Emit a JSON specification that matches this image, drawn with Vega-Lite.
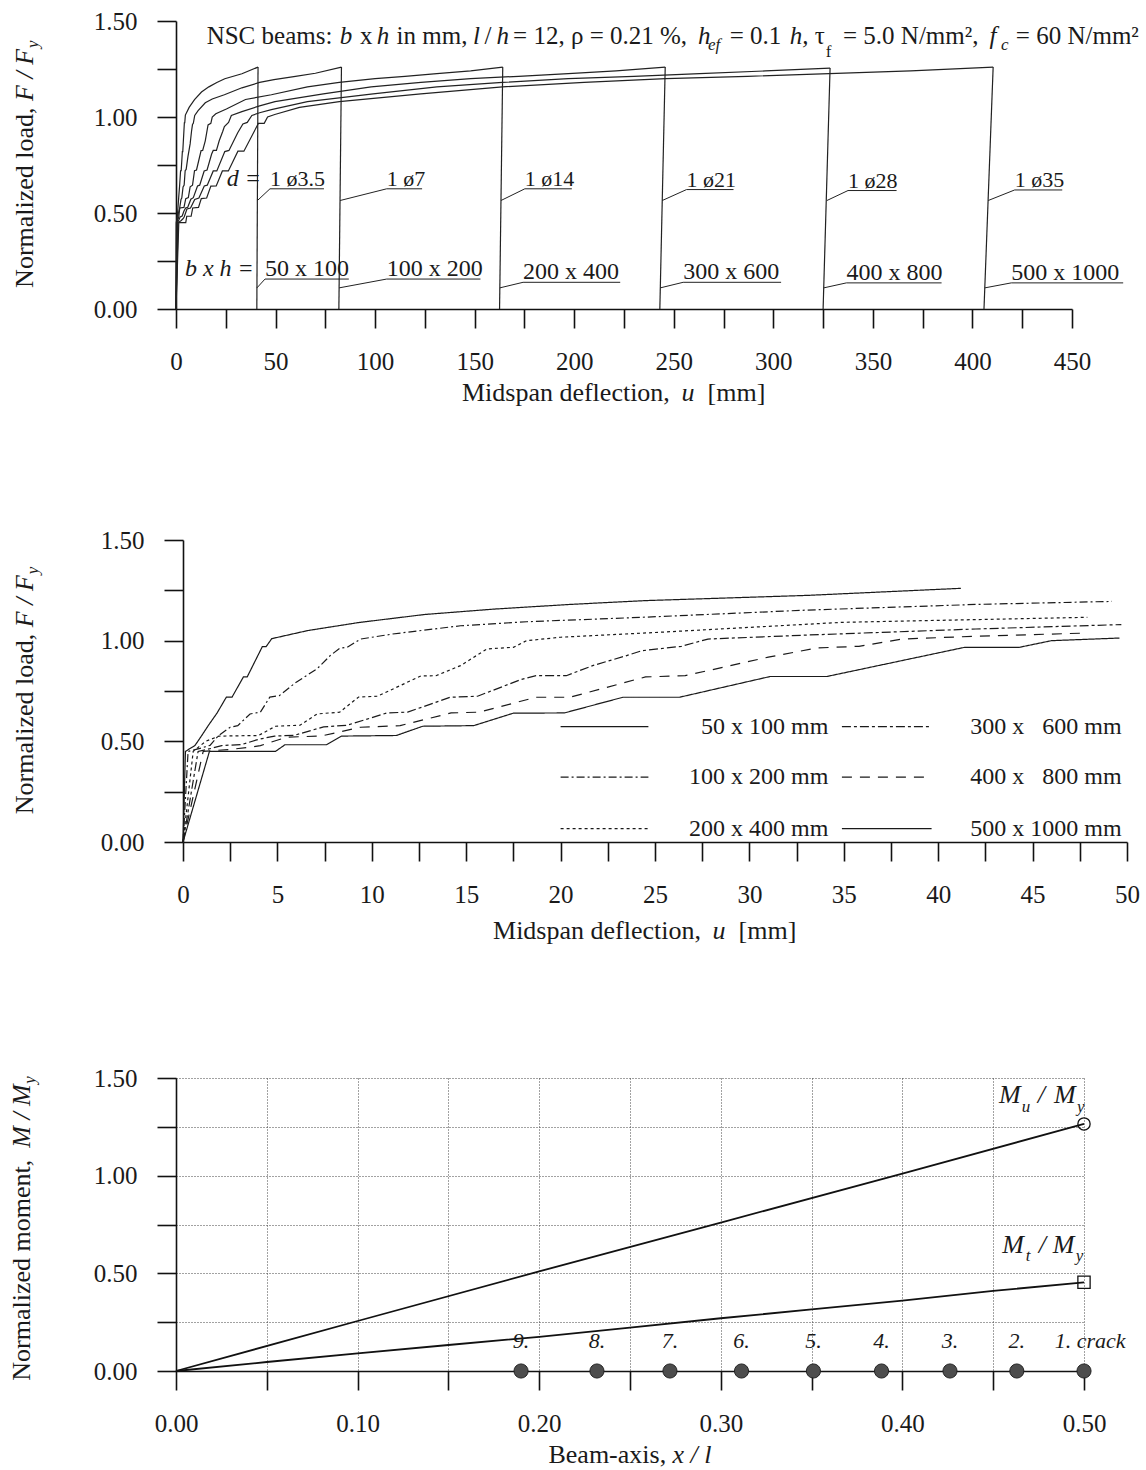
{
  "$schema": "https://vega.github.io/schema/vega-lite/v6.json",
  "background": "white",
  "padding": {"left": 8, "top": 9, "right": 0, "bottom": 0},
  "config": {
    "font": "Liberation Serif",
    "view": {"stroke": null},
    "axis": {
      "domainColor": "#111", "domainWidth": 1.6, "tickColor": "#111", "tickWidth": 1.6, "tickSize": 19,
      "labelFont": "Liberation Serif", "labelFontSize": 25, "labelColor": "#1a1a1a",
      "grid": false, "labelFlush": false, "labelOverlap": false, "title": null
    },
    "axisX": {"labelPadding": 21},
    "axisY": {"labelPadding": 20},
    "text": {"font": "Liberation Serif", "color": "#1a1a1a"}
  },
  "datasets": {
    "curves": [
      {"s":"50 x 100","u":0,"F":0},{"s":"50 x 100","u":0.13,"F":0.45},{"s":"50 x 100","u":0.64,"F":0.48},{"s":"50 x 100","u":1.0,"F":0.53},{"s":"50 x 100","u":1.35,"F":0.58},{"s":"50 x 100","u":1.8,"F":0.64},{"s":"50 x 100","u":2.3,"F":0.72},{"s":"50 x 100","u":2.6,"F":0.72},{"s":"50 x 100","u":3.2,"F":0.82},{"s":"50 x 100","u":3.4,"F":0.82},{"s":"50 x 100","u":4.2,"F":0.97},{"s":"50 x 100","u":4.4,"F":0.97},{"s":"50 x 100","u":4.7,"F":1.01},{"s":"50 x 100","u":6.6,"F":1.05},{"s":"50 x 100","u":9.3,"F":1.09},{"s":"50 x 100","u":12.8,"F":1.13},{"s":"50 x 100","u":16.5,"F":1.157},{"s":"50 x 100","u":20.5,"F":1.18},{"s":"50 x 100","u":24.5,"F":1.199},{"s":"50 x 100","u":33.1,"F":1.225},{"s":"50 x 100","u":41.2,"F":1.26},
      {"s":"100 x 200","u":0,"F":0},{"s":"100 x 200","u":0.27,"F":0.45},{"s":"100 x 200","u":0.9,"F":0.465},{"s":"100 x 200","u":1.43,"F":0.48},{"s":"100 x 200","u":1.9,"F":0.53},{"s":"100 x 200","u":2.5,"F":0.57},{"s":"100 x 200","u":2.9,"F":0.578},{"s":"100 x 200","u":3.55,"F":0.636},{"s":"100 x 200","u":4.1,"F":0.645},{"s":"100 x 200","u":4.6,"F":0.72},{"s":"100 x 200","u":5.1,"F":0.727},{"s":"100 x 200","u":6.0,"F":0.794},{"s":"100 x 200","u":7.1,"F":0.86},{"s":"100 x 200","u":7.8,"F":0.926},{"s":"100 x 200","u":8.3,"F":0.962},{"s":"100 x 200","u":8.7,"F":0.967},{"s":"100 x 200","u":9.4,"F":1.008},{"s":"100 x 200","u":11.1,"F":1.033},{"s":"100 x 200","u":14.7,"F":1.074},{"s":"100 x 200","u":18.2,"F":1.094},{"s":"100 x 200","u":24.3,"F":1.116},{"s":"100 x 200","u":33.1,"F":1.152},{"s":"100 x 200","u":42,"F":1.18},{"s":"100 x 200","u":49.2,"F":1.195},{"s":"100 x 200","u":60,"F":1.212},{"s":"100 x 200","u":70,"F":1.228},{"s":"100 x 200","u":83.1,"F":1.26},
      {"s":"200 x 400","u":0,"F":0},{"s":"200 x 400","u":0.54,"F":0.45},{"s":"200 x 400","u":1.2,"F":0.5},{"s":"200 x 400","u":1.9,"F":0.526},{"s":"200 x 400","u":4.0,"F":0.529},{"s":"200 x 400","u":4.9,"F":0.575},{"s":"200 x 400","u":6.2,"F":0.58},{"s":"200 x 400","u":7.1,"F":0.636},{"s":"200 x 400","u":8.3,"F":0.645},{"s":"200 x 400","u":9.3,"F":0.72},{"s":"200 x 400","u":10.3,"F":0.724},{"s":"200 x 400","u":12.6,"F":0.825},{"s":"200 x 400","u":13.4,"F":0.826},{"s":"200 x 400","u":14.7,"F":0.876},{"s":"200 x 400","u":16.1,"F":0.959},{"s":"200 x 400","u":17.5,"F":0.967},{"s":"200 x 400","u":18.2,"F":1.0},{"s":"200 x 400","u":20,"F":1.017},{"s":"200 x 400","u":25.3,"F":1.042},{"s":"200 x 400","u":34.9,"F":1.091},{"s":"200 x 400","u":47.9,"F":1.116},{"s":"200 x 400","u":66,"F":1.157},{"s":"200 x 400","u":82,"F":1.18},{"s":"200 x 400","u":100,"F":1.2},{"s":"200 x 400","u":115,"F":1.212},{"s":"200 x 400","u":131,"F":1.226},{"s":"200 x 400","u":148,"F":1.24},{"s":"200 x 400","u":164.1,"F":1.26},
      {"s":"300 x 600","u":0,"F":0},{"s":"300 x 600","u":0.8,"F":0.45},{"s":"300 x 600","u":1.5,"F":0.465},{"s":"300 x 600","u":2.05,"F":0.479},{"s":"300 x 600","u":3.1,"F":0.484},{"s":"300 x 600","u":4.0,"F":0.51},{"s":"300 x 600","u":4.85,"F":0.526},{"s":"300 x 600","u":5.9,"F":0.53},{"s":"300 x 600","u":7.45,"F":0.572},{"s":"300 x 600","u":8.7,"F":0.58},{"s":"300 x 600","u":10.8,"F":0.641},{"s":"300 x 600","u":11.9,"F":0.645},{"s":"300 x 600","u":14.15,"F":0.719},{"s":"300 x 600","u":15.6,"F":0.724},{"s":"300 x 600","u":17.9,"F":0.807},{"s":"300 x 600","u":18.7,"F":0.826},{"s":"300 x 600","u":20.3,"F":0.826},{"s":"300 x 600","u":21.7,"F":0.876},{"s":"300 x 600","u":23.5,"F":0.926},{"s":"300 x 600","u":24.3,"F":0.95},{"s":"300 x 600","u":26.4,"F":0.972},{"s":"300 x 600","u":27.8,"F":1.008},{"s":"300 x 600","u":33.1,"F":1.028},{"s":"300 x 600","u":42,"F":1.058},{"s":"300 x 600","u":49.7,"F":1.08},{"s":"300 x 600","u":74,"F":1.12},{"s":"300 x 600","u":98,"F":1.157},{"s":"300 x 600","u":123,"F":1.18},{"s":"300 x 600","u":148,"F":1.2},{"s":"300 x 600","u":172,"F":1.212},{"s":"300 x 600","u":197,"F":1.226},{"s":"300 x 600","u":221,"F":1.24},{"s":"300 x 600","u":245.7,"F":1.26},
      {"s":"400 x 800","u":0,"F":0},{"s":"400 x 800","u":1.07,"F":0.45},{"s":"400 x 800","u":2.5,"F":0.46},{"s":"400 x 800","u":3.5,"F":0.47},{"s":"400 x 800","u":4.1,"F":0.479},{"s":"400 x 800","u":5.5,"F":0.521},{"s":"400 x 800","u":7.3,"F":0.526},{"s":"400 x 800","u":9.4,"F":0.57},{"s":"400 x 800","u":11.5,"F":0.578},{"s":"400 x 800","u":14.2,"F":0.641},{"s":"400 x 800","u":15.7,"F":0.645},{"s":"400 x 800","u":18.7,"F":0.719},{"s":"400 x 800","u":20.5,"F":0.719},{"s":"400 x 800","u":24.5,"F":0.82},{"s":"400 x 800","u":26.6,"F":0.826},{"s":"400 x 800","u":31,"F":0.918},{"s":"400 x 800","u":33.6,"F":0.964},{"s":"400 x 800","u":35.8,"F":0.972},{"s":"400 x 800","u":38.1,"F":1.008},{"s":"400 x 800","u":42,"F":1.022},{"s":"400 x 800","u":47.9,"F":1.038},{"s":"400 x 800","u":66,"F":1.08},{"s":"400 x 800","u":99,"F":1.12},{"s":"400 x 800","u":131,"F":1.157},{"s":"400 x 800","u":164,"F":1.18},{"s":"400 x 800","u":197,"F":1.2},{"s":"400 x 800","u":230,"F":1.212},{"s":"400 x 800","u":263,"F":1.226},{"s":"400 x 800","u":296,"F":1.24},{"s":"400 x 800","u":328.5,"F":1.255},
      {"s":"500 x 1000","u":0,"F":0},{"s":"500 x 1000","u":1.4,"F":0.45},{"s":"500 x 1000","u":4.9,"F":0.45},{"s":"500 x 1000","u":5.4,"F":0.483},{"s":"500 x 1000","u":7.6,"F":0.483},{"s":"500 x 1000","u":8.4,"F":0.526},{"s":"500 x 1000","u":11.3,"F":0.529},{"s":"500 x 1000","u":12.7,"F":0.575},{"s":"500 x 1000","u":15.4,"F":0.578},{"s":"500 x 1000","u":17.5,"F":0.64},{"s":"500 x 1000","u":20.2,"F":0.641},{"s":"500 x 1000","u":23.3,"F":0.719},{"s":"500 x 1000","u":26.3,"F":0.719},{"s":"500 x 1000","u":31.1,"F":0.822},{"s":"500 x 1000","u":34.1,"F":0.822},{"s":"500 x 1000","u":41.4,"F":0.967},{"s":"500 x 1000","u":44.3,"F":0.967},{"s":"500 x 1000","u":46,"F":1.0},{"s":"500 x 1000","u":49.6,"F":1.013},{"s":"500 x 1000","u":62,"F":1.05},{"s":"500 x 1000","u":82,"F":1.08},{"s":"500 x 1000","u":123,"F":1.12},{"s":"500 x 1000","u":164,"F":1.157},{"s":"500 x 1000","u":205,"F":1.18},{"s":"500 x 1000","u":246,"F":1.2},{"s":"500 x 1000","u":287,"F":1.212},{"s":"500 x 1000","u":328,"F":1.226},{"s":"500 x 1000","u":369,"F":1.24},{"s":"500 x 1000","u":410.4,"F":1.26}
    ],
    "drops": [
      {"s":"50 x 100","u":41.2,"F":1.26,"u2":40.6},
      {"s":"100 x 200","u":83.1,"F":1.26,"u2":81.8},
      {"s":"200 x 400","u":164.1,"F":1.26,"u2":162.5},
      {"s":"300 x 600","u":245.7,"F":1.26,"u2":243},
      {"s":"400 x 800","u":328.5,"F":1.255,"u2":325},
      {"s":"500 x 1000","u":410.4,"F":1.26,"u2":405.8}
    ],
    "leaders": [
      {"id":"d1","u":40.9,"F":0.565},{"id":"d1","u":47.2,"F":0.626},{"id":"d1","u":74.3,"F":0.626},
      {"id":"d2","u":82.4,"F":0.565},{"id":"d2","u":105.8,"F":0.626},{"id":"d2","u":123.6,"F":0.626},
      {"id":"d3","u":163.2,"F":0.565},{"id":"d3","u":175.2,"F":0.626},{"id":"d3","u":198.8,"F":0.626},
      {"id":"d4","u":244.2,"F":0.565},{"id":"d4","u":256.4,"F":0.622},{"id":"d4","u":280,"F":0.622},
      {"id":"d5","u":326.9,"F":0.565},{"id":"d5","u":337.5,"F":0.617},{"id":"d5","u":361.9,"F":0.617},
      {"id":"d6","u":407.9,"F":0.565},{"id":"d6","u":421.2,"F":0.62},{"id":"d6","u":445.1,"F":0.62},
      {"id":"b1","u":40.65,"F":0.11},{"id":"b1","u":44.7,"F":0.156},{"id":"b1","u":86.8,"F":0.156},
      {"id":"b2","u":81.9,"F":0.11},{"id":"b2","u":105.8,"F":0.156},{"id":"b2","u":152.9,"F":0.156},
      {"id":"b3","u":162.6,"F":0.11},{"id":"b3","u":174.3,"F":0.139},{"id":"b3","u":223.1,"F":0.139},
      {"id":"b4","u":243.2,"F":0.11},{"id":"b4","u":254.7,"F":0.139},{"id":"b4","u":303.9,"F":0.139},
      {"id":"b5","u":325.3,"F":0.11},{"id":"b5","u":336.7,"F":0.136},{"id":"b5","u":384.5,"F":0.136},
      {"id":"b6","u":406.2,"F":0.11},{"id":"b6","u":419.5,"F":0.136},{"id":"b6","u":475.7,"F":0.136}
    ],
    "toplabels": [
      {"t":"1 ø3.5","u":47.2,"F":0.626,"k":"d"},
      {"t":"1 ø7","u":105.8,"F":0.626,"k":"d"},
      {"t":"1 ø14","u":175.2,"F":0.626,"k":"d"},
      {"t":"1 ø21","u":256.4,"F":0.622,"k":"d"},
      {"t":"1 ø28","u":337.5,"F":0.617,"k":"d"},
      {"t":"1 ø35","u":421.2,"F":0.62,"k":"d"},
      {"t":"50 x 100","u":44.7,"F":0.156,"k":"b"},
      {"t":"100 x 200","u":105.8,"F":0.156,"k":"b"},
      {"t":"200 x 400","u":174.3,"F":0.139,"k":"b"},
      {"t":"300 x 600","u":254.7,"F":0.139,"k":"b"},
      {"t":"400 x 800","u":336.7,"F":0.136,"k":"b"},
      {"t":"500 x 1000","u":419.5,"F":0.136,"k":"b"}
    ],
    "topitalic": [
      {"t":"d =","u":25.5,"F":0.626},
      {"t":"b x h =","u":4.5,"F":0.156}
    ],
    "ttl": [
      {"t":"NSC beams:","u":15.4,"k":"n"},
      {"t":"b","u":82.3,"k":"i"},
      {"t":"x","u":92.4,"k":"n"},
      {"t":"h","u":100.8,"k":"i"},
      {"t":"in mm,","u":110.8,"k":"n"},
      {"t":"l","u":149.2,"k":"i"},
      {"t":"/","u":155.0,"k":"n"},
      {"t":"h","u":161.0,"k":"i"},
      {"t":"= 12, ρ = 0.21 %,","u":169.3,"k":"n"},
      {"t":"h","u":262.2,"k":"i"},
      {"t":"ef","u":267.2,"k":"si"},
      {"t":"= 0.1","u":278.1,"k":"n"},
      {"t":"h,","u":308.2,"k":"i"},
      {"t":"τ","u":320.8,"k":"n"},
      {"t":"f","u":326.3,"k":"s"},
      {"t":"= 5.0 N/mm²,","u":335.0,"k":"n"},
      {"t":"f","u":408.6,"k":"i"},
      {"t":"c","u":414.3,"k":"si"},
      {"t":"= 60 N/mm²","u":421.8,"k":"n"}
    ],
    "leg": [
      {"s":"50 x 100","u":20.0,"F":0.573},{"s":"50 x 100","u":24.65,"F":0.573},
      {"s":"100 x 200","u":20.0,"F":0.322},{"s":"100 x 200","u":24.65,"F":0.322},
      {"s":"200 x 400","u":20.0,"F":0.066},{"s":"200 x 400","u":24.65,"F":0.066},
      {"s":"300 x 600","u":34.9,"F":0.573},{"s":"300 x 600","u":39.65,"F":0.573},
      {"s":"400 x 800","u":34.9,"F":0.322},{"s":"400 x 800","u":39.65,"F":0.322},
      {"s":"500 x 1000","u":34.9,"F":0.066},{"s":"500 x 1000","u":39.65,"F":0.066}
    ],
    "legt": [
      {"t":"50 x 100 mm","u":34.18,"F":0.573},
      {"t":"100 x 200 mm","u":34.18,"F":0.322},
      {"t":"200 x 400 mm","u":34.18,"F":0.066},
      {"t":"300 x\u00a0\u00a0\u00a0600 mm","u":49.72,"F":0.573},
      {"t":"400 x\u00a0\u00a0\u00a0800 mm","u":49.72,"F":0.322},
      {"t":"500 x 1000 mm","u":49.72,"F":0.066}
    ],
    "moment": [
      {"c":"Mu","x":0,"M":0},{"c":"Mu","x":0.1,"M":0.256},{"c":"Mu","x":0.2,"M":0.51},{"c":"Mu","x":0.3,"M":0.76},{"c":"Mu","x":0.4,"M":1.01},{"c":"Mu","x":0.5,"M":1.265},
      {"c":"Mt","x":0,"M":0},{"c":"Mt","x":0.05,"M":0.046},{"c":"Mt","x":0.1,"M":0.09},{"c":"Mt","x":0.15,"M":0.133},{"c":"Mt","x":0.2,"M":0.175},{"c":"Mt","x":0.25,"M":0.222},{"c":"Mt","x":0.3,"M":0.27},{"c":"Mt","x":0.35,"M":0.315},{"c":"Mt","x":0.4,"M":0.36},{"c":"Mt","x":0.45,"M":0.41},{"c":"Mt","x":0.5,"M":0.454}
    ],
    "cracks": [
      {"n":1,"t":"1.","x":0.5},{"n":2,"t":"2.","x":0.463},{"n":3,"t":"3.","x":0.4262},{"n":4,"t":"4.","x":0.3885},{"n":5,"t":"5.","x":0.351},{"n":6,"t":"6.","x":0.3114},{"n":7,"t":"7.","x":0.272},{"n":8,"t":"8.","x":0.2318},{"n":9,"t":"9.","x":0.19}
    ],
    "mlab": [
      {"t":"M","x":0.4532,"y":1.37,"k":"main"},{"t":"/","x":0.4745,"y":1.37,"k":"main"},{"t":"M","x":0.4835,"y":1.37,"k":"main"},
      {"t":"u","x":0.4657,"y":1.324,"k":"sub"},{"t":"y","x":0.4962,"y":1.324,"k":"sub"},
      {"t":"M","x":0.455,"y":0.606,"k":"main"},{"t":"/","x":0.4751,"y":0.606,"k":"main"},{"t":"M","x":0.4828,"y":0.606,"k":"main"},
      {"t":"t","x":0.4679,"y":0.564,"k":"sub"},{"t":"y","x":0.4954,"y":0.564,"k":"sub"}
    ]
  },
  "columns": 1,
  "align": "none",
  "spacing": 122,
  "concat": [
    {
      "width": 896, "height": 288,
      "layer": [
        {
          "data": {"name": "curves"},
          "mark": {"type": "line", "color": "#222", "strokeWidth": 1.2},
          "encoding": {
            "x": {"field": "u", "type": "quantitative", "scale": {"domain": [0, 450], "nice": false, "zero": false},
                  "axis": {"values": [0,25,50,75,100,125,150,175,200,225,250,275,300,325,350,375,400,425,450], "labelExpr": "datum.value % 50 == 0 ? datum.label : ''"}},
            "y": {"field": "F", "type": "quantitative", "scale": {"domain": [0, 1.5], "nice": false},
                  "axis": {"values": [0,0.25,0.5,0.75,1,1.25,1.5], "format": ".2f", "labelExpr": "round(datum.value*100) % 50 == 0 ? datum.label : ''"}},
            "detail": {"field": "s"}
          }
        },
        {
          "data": {"name": "drops"},
          "mark": {"type": "rule", "color": "#222", "strokeWidth": 1.2},
          "encoding": {
            "x": {"field": "u", "type": "quantitative"},
            "y": {"field": "F", "type": "quantitative"},
            "x2": {"field": "u2"},
            "y2": {"datum": 0}
          }
        },
        {
          "data": {"name": "leaders"},
          "mark": {"type": "line", "color": "#222", "strokeWidth": 1},
          "encoding": {
            "x": {"field": "u", "type": "quantitative"},
            "y": {"field": "F", "type": "quantitative"},
            "detail": {"field": "id"}
          }
        },
        {
          "data": {"name": "toplabels"},
          "transform": [{"filter": "datum.k == 'd'"}],
          "mark": {"type": "text", "align": "left", "baseline": "alphabetic", "fontSize": 22, "dy": -3},
          "encoding": {"x": {"field": "u", "type": "quantitative"}, "y": {"field": "F", "type": "quantitative"}, "text": {"field": "t"}}
        },
        {
          "data": {"name": "toplabels"},
          "transform": [{"filter": "datum.k == 'b'"}],
          "mark": {"type": "text", "align": "left", "baseline": "alphabetic", "fontSize": 24, "dy": -3},
          "encoding": {"x": {"field": "u", "type": "quantitative"}, "y": {"field": "F", "type": "quantitative"}, "text": {"field": "t"}}
        },
        {
          "data": {"name": "topitalic"},
          "mark": {"type": "text", "align": "left", "baseline": "alphabetic", "fontSize": 24, "fontStyle": "italic", "dy": -3},
          "encoding": {"x": {"field": "u", "type": "quantitative"}, "y": {"field": "F", "type": "quantitative"}, "text": {"field": "t"}}
        },
        {
          "data": {"name": "ttl"},
          "transform": [{"filter": "datum.k == 'n'"}],
          "mark": {"type": "text", "align": "left", "baseline": "alphabetic", "fontSize": 25},
          "encoding": {"x": {"field": "u", "type": "quantitative"}, "y": {"datum": 1.382}, "text": {"field": "t"}}
        },
        {
          "data": {"name": "ttl"},
          "transform": [{"filter": "datum.k == 'i'"}],
          "mark": {"type": "text", "align": "left", "baseline": "alphabetic", "fontSize": 25, "fontStyle": "italic"},
          "encoding": {"x": {"field": "u", "type": "quantitative"}, "y": {"datum": 1.382}, "text": {"field": "t"}}
        },
        {
          "data": {"name": "ttl"},
          "transform": [{"filter": "datum.k == 's'"}],
          "mark": {"type": "text", "align": "left", "baseline": "alphabetic", "fontSize": 17},
          "encoding": {"x": {"field": "u", "type": "quantitative"}, "y": {"datum": 1.31}, "text": {"field": "t"}}
        },
        {
          "data": {"name": "ttl"},
          "transform": [{"filter": "datum.k == 'si'"}],
          "mark": {"type": "text", "align": "left", "baseline": "alphabetic", "fontSize": 17, "fontStyle": "italic"},
          "encoding": {"x": {"field": "u", "type": "quantitative"}, "y": {"datum": 1.347}, "text": {"field": "t"}}
        },
        {
          "data": {"values": [{}]},
          "mark": {"type": "text", "angle": 270, "align": "left", "baseline": "alphabetic", "fontSize": 26},
          "encoding": {"x": {"datum": -71.6}, "y": {"datum": 0.11}, "text": {"value": "Normalized load,"}}
        },
        {
          "data": {"values": [{}]},
          "mark": {"type": "text", "angle": 270, "align": "left", "baseline": "alphabetic", "fontSize": 26, "fontStyle": "italic", "dx": 187},
          "encoding": {"x": {"datum": -71.6}, "y": {"datum": 0.11}, "text": {"value": "F / F"}}
        },
        {
          "data": {"values": [{}]},
          "mark": {"type": "text", "angle": 270, "align": "left", "baseline": "alphabetic", "fontSize": 17, "fontStyle": "italic", "dx": 240, "dy": 5},
          "encoding": {"x": {"datum": -71.6}, "y": {"datum": 0.11}, "text": {"value": "y"}}
        },
        {
          "data": {"values": [{}]},
          "mark": {"type": "text", "align": "left", "baseline": "alphabetic", "fontSize": 26},
          "encoding": {"x": {"datum": 143.6}, "y": {"datum": -0.478}, "text": {"value": "Midspan deflection,"}}
        },
        {
          "data": {"values": [{}]},
          "mark": {"type": "text", "align": "left", "baseline": "alphabetic", "fontSize": 26, "fontStyle": "italic", "dx": 219.6},
          "encoding": {"x": {"datum": 143.6}, "y": {"datum": -0.478}, "text": {"value": "u"}}
        },
        {
          "data": {"values": [{}]},
          "mark": {"type": "text", "align": "left", "baseline": "alphabetic", "fontSize": 26, "dx": 245.6},
          "encoding": {"x": {"datum": 143.6}, "y": {"datum": -0.478}, "text": {"value": "[mm]"}}
        }
      ]
    },
    {
      "width": 951, "height": 302,
      "layer": [
        {
          "data": {"name": "curves"},
          "transform": [{"filter": "datum.u <= 50"}],
          "mark": {"type": "line", "color": "#1a1a1a"},
          "encoding": {
            "x": {"field": "u", "type": "quantitative", "scale": {"domain": [0, 50], "nice": false, "zero": false, "range": [7, 951]},
                  "axis": {"values": [0,2.5,5,7.5,10,12.5,15,17.5,20,22.5,25,27.5,30,32.5,35,37.5,40,42.5,45,47.5,50], "labelExpr": "datum.value % 5 == 0 ? datum.label : ''"}},
            "y": {"field": "F", "type": "quantitative", "scale": {"domain": [0, 1.5], "nice": false},
                  "axis": {"values": [0,0.25,0.5,0.75,1,1.25,1.5], "format": ".2f", "labelExpr": "round(datum.value*100) % 50 == 0 ? datum.label : ''", "offset": -7}},
            "strokeDash": {"field": "s", "type": "nominal", "legend": null,
                           "scale": {"domain": ["50 x 100","100 x 200","200 x 400","300 x 600","400 x 800","500 x 1000"], "range": [[1,0],[8,3,2,3],[3,3],[9,3,3,3],[10,8],[1,0]]}},
            "strokeWidth": {"field": "s", "type": "ordinal", "legend": null,
                            "scale": {"domain": ["50 x 100","100 x 200","200 x 400","300 x 600","400 x 800","500 x 1000"], "range": [1.2,1.2,1.2,2.6,1.2,2.6]}}
          }
        },
        {
          "data": {"name": "leg"},
          "mark": {"type": "line", "color": "#1a1a1a"},
          "encoding": {
            "x": {"field": "u", "type": "quantitative"},
            "y": {"field": "F", "type": "quantitative"},
            "strokeDash": {"field": "s", "type": "nominal", "legend": null},
            "strokeWidth": {"field": "s", "type": "ordinal", "legend": null}
          }
        },
        {
          "data": {"name": "legt"},
          "mark": {"type": "text", "align": "right", "baseline": "middle", "fontSize": 24},
          "encoding": {"x": {"field": "u", "type": "quantitative"}, "y": {"field": "F", "type": "quantitative"}, "text": {"field": "t"}}
        },
        {
          "data": {"values": [{}]},
          "mark": {"type": "text", "angle": 270, "align": "left", "baseline": "alphabetic", "fontSize": 26},
          "encoding": {"x": {"datum": -7.93}, "y": {"datum": 0.138}, "text": {"value": "Normalized load,"}}
        },
        {
          "data": {"values": [{}]},
          "mark": {"type": "text", "angle": 270, "align": "left", "baseline": "alphabetic", "fontSize": 26, "fontStyle": "italic", "dx": 187},
          "encoding": {"x": {"datum": -7.93}, "y": {"datum": 0.138}, "text": {"value": "F / F"}}
        },
        {
          "data": {"values": [{}]},
          "mark": {"type": "text", "angle": 270, "align": "left", "baseline": "alphabetic", "fontSize": 17, "fontStyle": "italic", "dx": 240, "dy": 5},
          "encoding": {"x": {"datum": -7.93}, "y": {"datum": 0.138}, "text": {"value": "y"}}
        },
        {
          "data": {"values": [{}]},
          "mark": {"type": "text", "align": "left", "baseline": "alphabetic", "fontSize": 26},
          "encoding": {"x": {"datum": 16.42}, "y": {"datum": -0.48}, "text": {"value": "Midspan deflection,"}}
        },
        {
          "data": {"values": [{}]},
          "mark": {"type": "text", "align": "left", "baseline": "alphabetic", "fontSize": 26, "fontStyle": "italic", "dx": 219.6},
          "encoding": {"x": {"datum": 16.42}, "y": {"datum": -0.48}, "text": {"value": "u"}}
        },
        {
          "data": {"values": [{}]},
          "mark": {"type": "text", "align": "left", "baseline": "alphabetic", "fontSize": 26, "dx": 245.6},
          "encoding": {"x": {"datum": 16.42}, "y": {"datum": -0.48}, "text": {"value": "[mm]"}}
        }
      ]
    },
    {
      "width": 908, "height": 293,
      "layer": [
        {
          "data": {"name": "moment"},
          "mark": {"type": "line", "color": "#111", "strokeWidth": 1.8},
          "encoding": {
            "x": {"field": "x", "type": "quantitative", "scale": {"domain": [0, 0.5], "nice": false, "zero": false},
                  "axis": {"values": [0,0.05,0.1,0.15,0.2,0.25,0.3,0.35,0.4,0.45,0.5], "format": ".2f", "labelExpr": "round(datum.value*100) % 10 == 0 ? datum.label : ''", "grid": true, "gridDash": [1,2], "gridColor": "#444", "gridWidth": 1}},
            "y": {"field": "M", "type": "quantitative", "scale": {"domain": [0, 1.5], "nice": false},
                  "axis": {"values": [0,0.25,0.5,0.75,1,1.25,1.5], "format": ".2f", "labelExpr": "round(datum.value*100) % 50 == 0 ? datum.label : ''", "grid": true, "gridDash": [1,2], "gridColor": "#444", "gridWidth": 1}},
            "detail": {"field": "c"}
          }
        },
        {
          "data": {"name": "moment"},
          "transform": [{"filter": "datum.x == 0.5"}],
          "mark": {"type": "point", "filled": false, "color": "#111", "strokeWidth": 1.3, "size": 150, "opacity": 1},
          "encoding": {
            "x": {"field": "x", "type": "quantitative"},
            "y": {"field": "M", "type": "quantitative"},
            "shape": {"field": "c", "type": "nominal", "legend": null, "scale": {"domain": ["Mu","Mt"], "range": ["circle","square"]}}
          }
        },
        {
          "data": {"name": "cracks"},
          "mark": {"type": "point", "shape": "circle", "filled": true, "color": "#4d4d4d", "stroke": "#222", "strokeWidth": 1, "size": 200, "opacity": 1},
          "encoding": {"x": {"field": "x", "type": "quantitative"}, "y": {"datum": 0}}
        },
        {
          "data": {"name": "cracks"},
          "transform": [{"filter": "datum.n > 1"}],
          "mark": {"type": "text", "align": "center", "baseline": "alphabetic", "fontSize": 22, "fontStyle": "italic"},
          "encoding": {"x": {"field": "x", "type": "quantitative"}, "y": {"datum": 0.12}, "text": {"field": "t"}}
        },
        {
          "data": {"values": [{}]},
          "mark": {"type": "text", "align": "left", "baseline": "alphabetic", "fontSize": 22, "fontStyle": "italic"},
          "encoding": {"x": {"datum": 0.4839}, "y": {"datum": 0.12}, "text": {"value": "1. crack"}}
        },
        {
          "data": {"name": "mlab"},
          "transform": [{"filter": "datum.k == 'main'"}],
          "mark": {"type": "text", "align": "left", "baseline": "alphabetic", "fontSize": 26, "fontStyle": "italic"},
          "encoding": {"x": {"field": "x", "type": "quantitative"}, "y": {"field": "y", "type": "quantitative"}, "text": {"field": "t"}}
        },
        {
          "data": {"name": "mlab"},
          "transform": [{"filter": "datum.k == 'sub'"}],
          "mark": {"type": "text", "align": "left", "baseline": "alphabetic", "fontSize": 17, "fontStyle": "italic"},
          "encoding": {"x": {"field": "x", "type": "quantitative"}, "y": {"field": "y", "type": "quantitative"}, "text": {"field": "t"}}
        },
        {
          "data": {"values": [{}]},
          "mark": {"type": "text", "angle": 270, "align": "left", "baseline": "alphabetic", "fontSize": 26},
          "encoding": {"x": {"datum": -0.0804}, "y": {"datum": -0.05}, "text": {"value": "Normalized moment,"}}
        },
        {
          "data": {"values": [{}]},
          "mark": {"type": "text", "angle": 270, "align": "left", "baseline": "alphabetic", "fontSize": 26, "fontStyle": "italic", "dx": 233},
          "encoding": {"x": {"datum": -0.0804}, "y": {"datum": -0.05}, "text": {"value": "M / M"}}
        },
        {
          "data": {"values": [{}]},
          "mark": {"type": "text", "angle": 270, "align": "left", "baseline": "alphabetic", "fontSize": 17, "fontStyle": "italic", "dx": 297, "dy": 5},
          "encoding": {"x": {"datum": -0.0804}, "y": {"datum": -0.05}, "text": {"value": "y"}}
        },
        {
          "data": {"values": [{}]},
          "mark": {"type": "text", "align": "left", "baseline": "alphabetic", "fontSize": 26},
          "encoding": {"x": {"datum": 0.2051}, "y": {"datum": -0.4716}, "text": {"value": "Beam-axis,"}}
        },
        {
          "data": {"values": [{}]},
          "mark": {"type": "text", "align": "left", "baseline": "alphabetic", "fontSize": 26, "fontStyle": "italic", "dx": 124},
          "encoding": {"x": {"datum": 0.2051}, "y": {"datum": -0.4716}, "text": {"value": "x / l"}}
        }
      ]
    }
  ]
}
